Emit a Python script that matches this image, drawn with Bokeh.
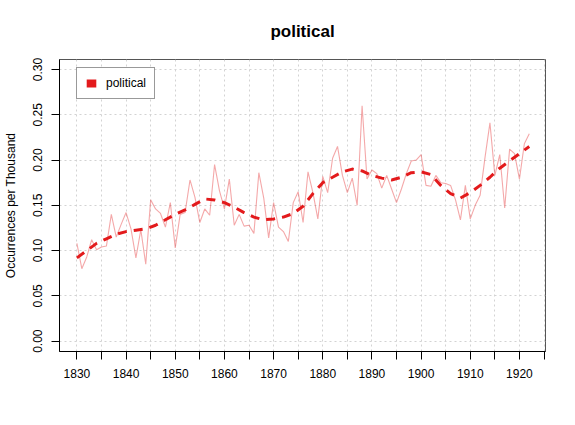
from bokeh.plotting import figure
from bokeh.models import FixedTicker, Range1d, Legend, LegendItem, ColumnDataSource
from bokeh.embed import file_html
from bokeh.resources import INLINE

# ---- data ----
years = list(range(1830, 1923))
political = [
    0.108, 0.080, 0.093, 0.112, 0.101, 0.104, 0.105, 0.140, 0.115, 0.129,  # 1830-1839
    0.142, 0.124, 0.092, 0.123, 0.085, 0.156, 0.146, 0.141, 0.126, 0.153,  # 1840-1849
    0.103, 0.140, 0.142, 0.178, 0.159, 0.131, 0.146, 0.139, 0.195, 0.166,  # 1850-1859
    0.146, 0.179, 0.128, 0.140, 0.127, 0.128, 0.119, 0.186, 0.158, 0.114,  # 1860-1869
    0.153, 0.126, 0.121, 0.110, 0.153, 0.165, 0.131, 0.187, 0.164, 0.135,  # 1870-1879
    0.182, 0.164, 0.202, 0.215, 0.183, 0.164, 0.180, 0.150, 0.260, 0.179,  # 1880-1889
    0.189, 0.185, 0.169, 0.183, 0.168, 0.153, 0.168, 0.185, 0.199, 0.200,  # 1890-1899
    0.206, 0.172, 0.171, 0.183, 0.175, 0.174, 0.172, 0.156, 0.134, 0.172,  # 1900-1909
    0.135, 0.150, 0.161, 0.203, 0.241, 0.183, 0.206, 0.147, 0.212, 0.207,  # 1910-1919
    0.179, 0.218, 0.229,                                                   # 1920-1922
]

trend_years = list(range(1830, 1923, 2))
trend = [
    0.092, 0.100, 0.108, 0.113, 0.118, 0.121, 0.1225, 0.124, 0.128, 0.134,  # 1830-1848
    0.140, 0.145, 0.151, 0.157, 0.156, 0.153, 0.148, 0.142, 0.137, 0.134,   # 1850-1868
    0.135, 0.137, 0.141, 0.149, 0.163, 0.175, 0.181, 0.187, 0.190, 0.188,   # 1870-1888
    0.183, 0.180, 0.178, 0.181, 0.186, 0.187, 0.184, 0.172, 0.163, 0.158,   # 1890-1908
    0.164, 0.172, 0.181, 0.191, 0.199, 0.207, 0.215,                        # 1910-1922
]

x_ticks = list(range(1830, 1930, 5))
x_tick_labels = [str(t) if t % 10 == 0 and t <= 1920 else "" for t in x_ticks]
y_ticks = [0.0, 0.05, 0.10, 0.15, 0.20, 0.25, 0.30]
y_tick_labels = ["0.00", "0.05", "0.10", "0.15", "0.20", "0.25", "0.30"]

series_name = "political"
title_text = "political"
y_label = "Occurrences per Thousand"

RED = "#E31A1C"
FONT = "Liberation Sans"

p = figure(
    frame_width=486, frame_height=292,
    x_range=Range1d(1826.46, 1925.3), y_range=Range1d(-0.0114, 0.311),
    output_backend="svg", toolbar_location=None,
    min_border_left=59, min_border_right=29, min_border_top=59, min_border_bottom=70,
    title=title_text,
)
p.background_fill_color = "white"
p.border_fill_color = "white"
p.outline_line_color = "#555555"
p.outline_line_width = 1

p.title.text_font = FONT
p.title.text_font_size = "17px"
p.title.text_font_style = "bold"
p.title.text_color = "black"
p.title.align = "center"
p.title.standoff = 38

src = ColumnDataSource(dict(x=years, y=political))
p.line("x", "y", source=src, line_color=RED, line_alpha=0.38, line_width=1.1)

tsrc = ColumnDataSource(dict(x=trend_years, y=trend))
p.line("x", "y", source=tsrc, line_color=RED, line_width=3, line_dash="9 7")

# legend key: a zero-area quad at the first data point (invisible in the plot)
proxy = p.quad(left=[years[0]], right=[years[0]], top=[political[0]], bottom=[political[0]],
               fill_color=RED, line_color=None)

p.xaxis.ticker = FixedTicker(ticks=x_ticks)
p.xaxis.major_label_overrides = {t: l for t, l in zip(x_ticks, x_tick_labels)}
p.yaxis.ticker = FixedTicker(ticks=y_ticks)
p.yaxis.major_label_overrides = {t: l for t, l in zip(y_ticks, y_tick_labels)}
p.yaxis.major_label_orientation = "vertical"

for ax in (p.xaxis, p.yaxis):
    ax.axis_line_color = "black"
    ax.major_tick_line_color = "black"
    ax.major_tick_in = 0
    ax.major_tick_out = 8
    ax.minor_tick_line_color = None
    ax.major_label_text_font = FONT
    ax.major_label_text_font_size = "12px"
    ax.major_label_text_color = "black"

p.xaxis.major_label_standoff = 9
p.yaxis.major_label_standoff = 9
p.yaxis.axis_label = y_label
p.yaxis.axis_label_text_font = FONT
p.yaxis.axis_label_text_font_size = "12px"
p.yaxis.axis_label_text_font_style = "normal"
p.yaxis.axis_label_text_color = "black"
p.yaxis.axis_label_standoff = 13

for g in (p.xgrid, p.ygrid):
    g.grid_line_color = "#D3D3D3"
    g.grid_line_dash = "2 3"
    g.grid_line_width = 1

legend = Legend(
    items=[LegendItem(label=series_name, renderers=[proxy])],
    location=(17, 252), padding=8, margin=0, glyph_width=12, glyph_height=10,
    label_height=14, label_standoff=9, border_line_color="#333333", border_line_width=1,
    label_text_font=FONT, label_text_font_size="12px", label_text_color="black",
    background_fill_alpha=1,
)
p.add_layout(legend)

open("out.html", "w").write(file_html(p, INLINE))
